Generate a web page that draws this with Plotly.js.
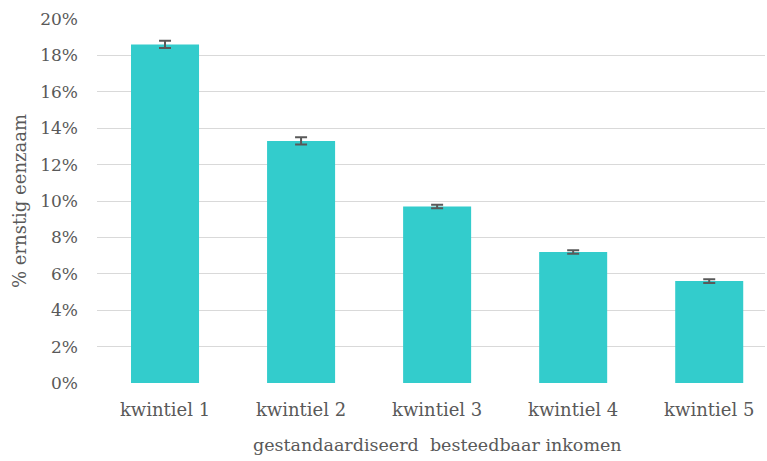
<!DOCTYPE html>
<html>
<head>
<meta charset="utf-8">
<script src="https://cdn.plot.ly/plotly-3.0.1.min.js"></script>
<style>html,body{margin:0;padding:0;background:#fff;}#chart{width:767px;height:461px;}</style>
</head>
<body>
<div id="chart"></div>
<script>
const categories = ["kwintiel 1", "kwintiel 2", "kwintiel 3", "kwintiel 4", "kwintiel 5"];
const values = [18.6, 13.3, 9.7, 7.2, 5.6];
const errors = [0.2, 0.2, 0.1, 0.1, 0.1];
const yTickVals = [0, 2, 4, 6, 8, 10, 12, 14, 16, 18, 20];
const yTickText = ["0%", "2%", "4%", "6%", "8%", "10%", "12%", "14%", "16%", "18%", "20%"];
const xTitle = "gestandaardiseerd\u00a0 besteedbaar inkomen";
const yTitle = "% ernstig eenzaam";

const font = "DejaVu Serif";
const textColor = "#595959";

const trace = {
  type: "bar",
  x: categories.map((c, i) => i),
  y: values,
  width: 0.5,
  marker: { color: "#33CCCC", line: { width: 0 } },
  error_y: { type: "data", array: errors, visible: true, color: "#595959", thickness: 2, width: 6 },
  hoverinfo: "skip"
};

const layout = {
  width: 767,
  height: 461,
  margin: { l: 97, r: 2, t: 19, b: 78 },
  paper_bgcolor: "#ffffff",
  plot_bgcolor: "#ffffff",
  showlegend: false,
  bargap: 0.5,
  font: { family: font, size: 17, color: textColor },
  xaxis: {
    type: "linear",
    range: [-0.5, 4.41],
    tickvals: categories.map((c, i) => i),
    ticktext: categories,
    showgrid: false,
    zeroline: false,
    showline: false,
    ticks: "",
    ticklabelstandoff: 14,
    tickfont: { family: font, size: 18, color: textColor },
    fixedrange: true
  },
  yaxis: {
    range: [0, 20],
    tickvals: yTickVals,
    ticktext: yTickText,
    showgrid: true,
    gridcolor: "#d9d9d9",
    gridwidth: 1,
    zeroline: false,
    showline: false,
    ticks: "",
    ticklabelstandoff: 18,
    tickfont: { family: font, size: 17, color: textColor },
    title: { text: yTitle, font: { family: font, size: 18, color: textColor }, standoff: 8 },
    fixedrange: true
  },
  annotations: [{
    text: xTitle,
    xref: "paper", yref: "paper",
    x: (437 - 97) / (765 - 97), y: 0,
    xanchor: "center", yanchor: "top",
    yshift: -50,
    showarrow: false,
    font: { family: font, size: 17.5, color: textColor }
  }]
};

Plotly.newPlot("chart", [trace], layout, { staticPlot: true, displayModeBar: false });
</script>
</body>
</html>
